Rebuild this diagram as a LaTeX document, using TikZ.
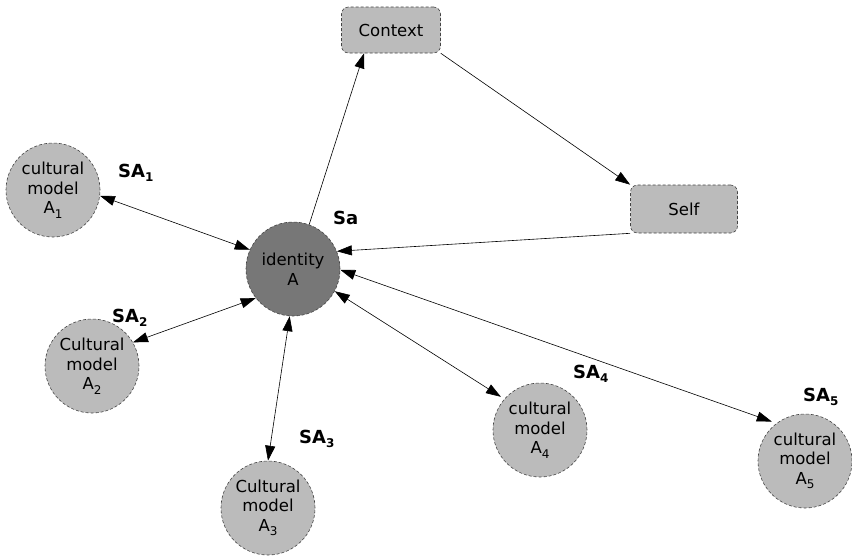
\documentclass[tikz,border=0pt]{standalone}
\usepackage{fontspec}
\setmainfont{DejaVu Sans}
\usetikzlibrary{arrows.meta}
\definecolor{lightfill}{HTML}{BBBBBB}
\definecolor{darkfill}{HTML}{777777}
\definecolor{edgegray}{HTML}{444444}
\newcommand{\sbs}[1]{\raisebox{-4.5pt}{\fontsize{12}{12}\selectfont #1}}
\begin{document}
\begin{tikzpicture}[x=1pt,y=-1pt,
  txt/.style={font=\fontsize{16.5}{19.5}\selectfont, align=center},
  model/.style={circle, minimum size=94pt, inner sep=0pt, fill=lightfill, draw=edgegray, densely dashed, line width=0.6pt, txt},
  ident/.style={model, fill=darkfill},
  rbox/.style={rounded corners=7pt, inner sep=0pt, fill=lightfill, draw=edgegray, densely dashed, line width=0.6pt, txt},
  lbl/.style={font=\fontsize{18}{18}\selectfont\bfseries, anchor=base west, inner sep=0pt},
  conn/.style={line width=0.6pt, -{Triangle[length=15pt,width=10pt]}},
  dconn/.style={line width=0.6pt, {Triangle[length=15pt,width=10pt]}-{Triangle[length=15pt,width=10pt]}}
]
\useasboundingbox (0,0) rectangle (852,555);
\node[ident] (id) at (293,269) {identity\\A};
\node[model] (a1) at (53,190) {cultural\\model\\A\sbs{1}};
\node[model] (a2) at (92,366) {Cultural\\model\\A\sbs{2}};
\node[model] (a3) at (268,508) {Cultural\\model\\A\sbs{3}};
\node[model] (a4) at (540,430) {cultural\\model\\A\sbs{4}};
\node[model] (a5) at (805,461) {cultural\\model\\A\sbs{5}};
\node[rbox, minimum width=99pt, minimum height=46pt] (ctx) at (391,30) {Context};
\node[rbox, minimum width=107pt, minimum height=48pt] (self) at (684,209) {Self};

\node[lbl] (l1) at (118,177) {SA\sbs{1}};
\node[lbl] (l0) at (333,224) {Sa};
\node[lbl] (l2) at (112,322) {SA\sbs{2}};
\node[lbl] (l3) at (299,443) {SA\sbs{3}};
\node[lbl] (l4) at (573,378) {SA\sbs{4}};
\node[lbl] (l5) at (803,401) {SA\sbs{5}};

\coordinate (ctxin) at (ctx.south -| 364,0);
\draw[conn] (id.70) -- (ctxin);
\draw[conn] (ctx.south east) -- (self.north west);
\draw[conn] (self.south west) -- (id.22);
\draw[dconn] (a1.-7) -- (id.156);
\draw[dconn] (a2.30) -- (id.218);
\draw[dconn] (a3.90) -- (id.266);
\draw[dconn, shorten <=4pt] (a4.139) -- (id.-28);
\draw[dconn, shorten <=5pt] (a5.127) -- (id.-1);
\end{tikzpicture}
\end{document}
